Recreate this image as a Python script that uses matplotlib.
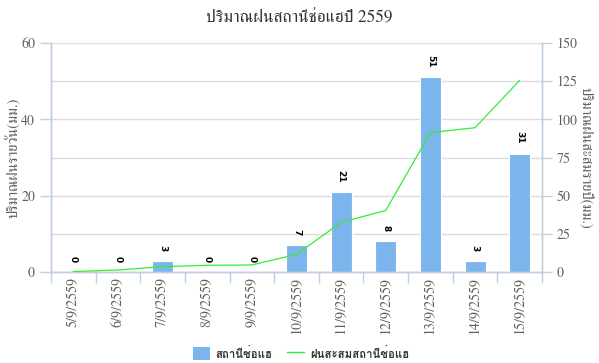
import matplotlib
matplotlib.use("Agg")
import matplotlib.pyplot as plt
from matplotlib.lines import Line2D
from matplotlib.patches import Patch

dates = ["5/9/2559", "6/9/2559", "7/9/2559", "8/9/2559", "9/9/2559", "10/9/2559",
         "11/9/2559", "12/9/2559", "13/9/2559", "14/9/2559", "15/9/2559"]
daily = [0, 0, 3, 0, 0, 7, 21, 8, 51, 3, 31]
cumulative = [0.3, 1.3, 3.5, 4.4, 4.6, 11.5, 32.5, 40.3, 91.3, 94.5, 125.5]

title = "ปริมาณฝนสถานีช่อแฮปี 2559"
left_label = "ปริมาณฝนรายวัน(มม.)"
right_label = "ปริมาณฝนสะสมรายปี(มม.)"
bar_name = "สถานีช่อแฮ"
line_name = "ฝนสะสมสถานีช่อแฮ"

serif = ["FreeSerif", "DejaVu Serif"]
sans = ["Loma", "DejaVu Sans"]
axis_col = "#c0d0e0"
grid_col = "#dcdcdc"
label_col = "#606060"
bar_col = "#7cb5ec"
line_col = "#33ee33"

fig = plt.figure(figsize=(5.99, 3.63), dpi=100)
ax = fig.add_axes([0.0851, 0.2507, 0.8197, 0.6308])
ax2 = ax.twinx()

x = list(range(len(dates)))

# right axis (gridlines every 25) goes behind the bar axes
ax.set_zorder(ax2.get_zorder() + 1)
ax.patch.set_visible(False)
ax2.set_ylim(0, 150)
ax2.set_yticks([0, 25, 50, 75, 100, 125, 150])
ax2.grid(axis="y", color=grid_col, linewidth=1)
ax2.tick_params(axis="y", colors=axis_col, labelcolor=label_col, length=7, width=1)
for lab in ax2.get_yticklabels():
    lab.set_family(serif)
    lab.set_fontsize(10)
ax2.set_ylabel(right_label, family=serif, fontsize=10.5, color=label_col, rotation=-90)
ax2.yaxis.label.set_va("center")
ax2.yaxis.set_label_coords(1.0906, 0.5)

ax.bar(x, daily, width=0.47, color=bar_col, edgecolor="white", linewidth=0.8, zorder=2)
ax.set_xlim(-0.5, len(dates) - 0.5)
ax.set_ylim(0, 60)
ax.set_yticks([0, 20, 40, 60])
ax.set_xticks(x)
ax.set_xticklabels(dates, rotation=90, family=serif, fontsize=10, color=label_col)
ax.set_xticks([i - 0.5 for i in range(len(dates) + 1)], minor=True)
ax.tick_params(axis="x", which="major", length=0)
ax.tick_params(axis="x", which="minor", length=8, color=axis_col, width=1)
ax.tick_params(axis="y", colors=axis_col, labelcolor=label_col, length=8, width=1)
for lab in ax.get_yticklabels():
    lab.set_family(serif)
    lab.set_fontsize(10)
ax.set_ylabel(left_label, family=serif, fontsize=10.5, color=label_col)
ax.yaxis.label.set_va("center")
ax.yaxis.set_label_coords(-0.0774, 0.5)

for i, v in enumerate(daily):
    ax.annotate(str(v), (x[i], v), xytext=(0, 7), textcoords="offset points",
                ha="center", va="bottom", rotation=-90, fontsize=6.5,
                fontweight="bold", color="black", zorder=5)

for a in (ax, ax2):
    for s in a.spines.values():
        s.set_color(axis_col)
        s.set_linewidth(1)
    a.spines["top"].set_visible(False)

# cumulative line, drawn on the front axes in right-axis units
ax.plot(x, [c * 60 / 150 for c in cumulative], color=line_col, linewidth=0.9, zorder=3)

fig.text(0.5, 0.948, title, ha="center", va="center", family=serif, fontsize=12.5, color="#333333")

handles = [Patch(facecolor=bar_col, edgecolor="none"),
           Line2D([0], [0], color=line_col, linewidth=1)]
leg = fig.legend(handles, [bar_name, line_name], loc="center", bbox_to_anchor=(0.502, 0.027),
                 ncol=2, frameon=False, prop={"family": sans, "size": 8.2, "weight": "bold"},
                 handlelength=1.5, handleheight=1.3, columnspacing=1.3, handletextpad=0.5)
for t in leg.get_texts():
    t.set_color("#333333")

fig.savefig("out.png", dpi=100)
